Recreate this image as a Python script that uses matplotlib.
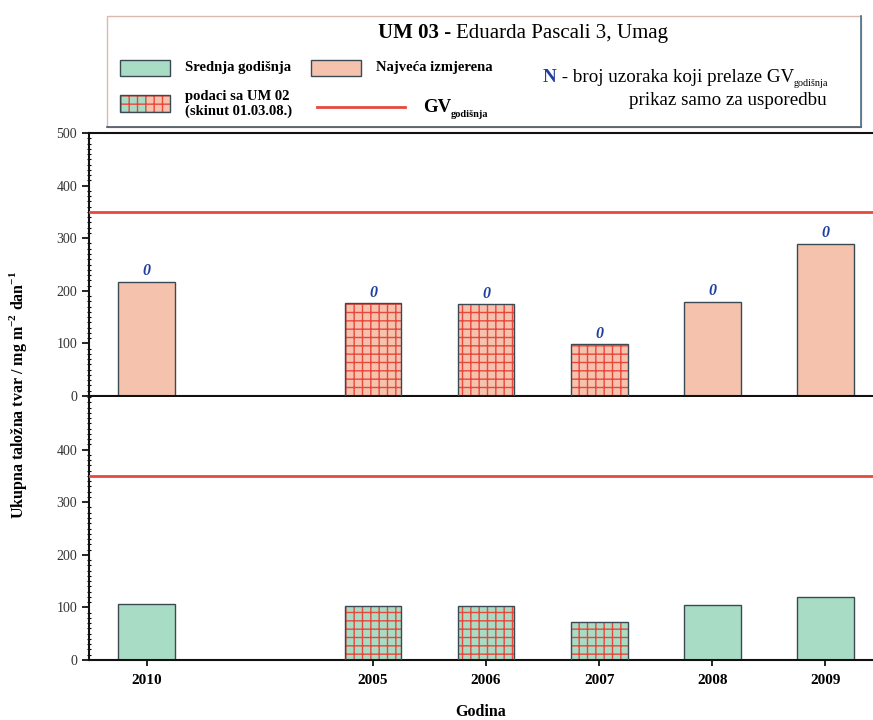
import numpy as np
import matplotlib
matplotlib.use("Agg")
import matplotlib.pyplot as plt
from matplotlib.patches import Rectangle
from matplotlib.lines import Line2D
from matplotlib.ticker import MultipleLocator

plt.rcParams['font.family'] = ['Liberation Serif', 'DejaVu Serif']
plt.rcParams['mathtext.fontset'] = 'custom'
plt.rcParams['mathtext.rm'] = 'Liberation Serif'
plt.rcParams['mathtext.bf'] = 'Liberation Serif:bold'
plt.rcParams['hatch.linewidth'] = 1.0

# --- data -------------------------------------------------------------
years = ['2010', '2005', '2006', '2007', '2008', '2009']
slots = [0, 2, 3, 4, 5, 6]
max_measured = [217, 176, 174, 98, 179, 289]     # Najveća izmjerena
annual_mean = [106, 103, 102, 72, 105, 119]      # Srednja godišnja
from_um02 = [False, True, True, True, False, False]
n_exceed = [0, 0, 0, 0, 0, 0]
gv_annual = 350

PINK = '#f5c2ad'
GREEN = '#a9dcc5'
EDGE = '#3b4a52'
RED = '#e8473c'
BLUE = '#1f3f9e'

W, H = 873, 720
fig = plt.figure(figsize=(W / 100, H / 100), dpi=100)

def fx(px):
    return px / W

def fy(py):
    return 1 - py / H

ax_top = fig.add_axes([fx(89), fy(396), fx(873 - 89), (396 - 133) / H])
ax_bot = fig.add_axes([fx(89), fy(660), fx(873 - 89), (660 - 397) / H])


def draw_panel(ax, values, fill, show_n):
    for x, v, um02, n in zip(slots, values, from_um02, n_exceed):
        if um02:
            ax.bar(x, v, width=0.5, color=fill, edgecolor=RED, hatch='++',
                   linewidth=0, zorder=2)
            ax.bar(x, v, width=0.5, facecolor='none', edgecolor=EDGE,
                   linewidth=1.0, zorder=3)
        else:
            ax.bar(x, v, width=0.5, color=fill, edgecolor=EDGE,
                   linewidth=1.0, zorder=2)
        if show_n:
            ax.annotate(str(n), (x, v), xytext=(0, 2), textcoords='offset points',
                        ha='center', va='bottom', color=BLUE, fontsize=11.5,
                        fontweight='bold', fontstyle='italic')
    ax.axhline(gv_annual, color=RED, linewidth=2, zorder=4)
    ax.set_xlim(-0.51, 6.42)
    ax.set_ylim(0, 500)
    ax.spines['right'].set_visible(False)
    for s in ('left', 'bottom', 'top'):
        ax.spines[s].set_linewidth(1.5)
        ax.spines[s].set_color('#111111')
    ax.yaxis.set_minor_locator(MultipleLocator(10))
    ax.tick_params(axis='y', which='major', direction='out', length=5, width=1.2,
                   labelsize=10, labelcolor='#333333')
    ax.tick_params(axis='y', which='minor', direction='inout', length=3, width=0.8)
    ax.set_xticks(slots)
    ax.tick_params(axis='x', which='major', direction='out', length=4, width=1.2)


draw_panel(ax_top, max_measured, PINK, True)
ax_top.set_yticks([0, 100, 200, 300, 400, 500])
ax_top.set_xticklabels([])

draw_panel(ax_bot, annual_mean, GREEN, False)
ax_bot.spines['top'].set_visible(False)
ax_bot.set_yticks([0, 100, 200, 300, 400])
ax_bot.set_xticklabels(years, fontsize=11, fontweight='bold')
ax_bot.tick_params(axis='x', pad=6)

ax_bot.set_xlabel('Godina', fontsize=11.5, fontweight='bold', labelpad=12)
fig.text(fx(18), fy(395),
         r'Ukupna taložna tvar / mg m$^{\mathbf{-2}}$ dan$^{\mathbf{-1}}$',
         rotation=90, ha='center', va='center', fontsize=11.5, fontweight='bold')

# --- legend panel --------------------------------------------------------
fig.patches.append(Rectangle((fx(107), fy(127)), fx(861 - 107), (127 - 16) / H,
                             transform=fig.transFigure, facecolor='white',
                             edgecolor='#d9b9b0', linewidth=1.0, zorder=5))
fig.lines.append(Line2D([fx(107), fx(861)], [fy(127), fy(127)],
                        transform=fig.transFigure, color='#4a5660', lw=1.2, zorder=6))
fig.lines.append(Line2D([fx(861), fx(861)], [fy(127), fy(16)],
                        transform=fig.transFigure, color='#4a6f88', lw=1.2, zorder=6))

renderer = fig.canvas.get_renderer()


def chain(x_px, y_px, parts):
    """Draw text pieces one after another on a shared baseline."""
    x = fx(x_px)
    for txt, kw in parts:
        dy = kw.pop('dy', 0)
        t = fig.text(x, fy(y_px + dy), txt, va='baseline', ha='left', zorder=7, **kw)
        bb = t.get_window_extent(renderer)
        x = bb.x1 / W
    return x


chain(378, 38, [('UM 03 - ', dict(fontsize=15, fontweight='bold')),
                ('Eduarda Pascali 3, Umag', dict(fontsize=15))])


def legend_patch(x0, y0, x1, y1, fill, hatch=False):
    r = Rectangle((fx(x0), fy(y1)), fx(x1 - x0), (y1 - y0) / H,
                  transform=fig.transFigure, facecolor=fill,
                  edgecolor=RED if hatch else EDGE,
                  hatch='++' if hatch else None,
                  linewidth=0 if hatch else 1.0, zorder=7)
    fig.patches.append(r)


legend_patch(120, 60, 170, 76, GREEN)
fig.text(fx(185), fy(68), 'Srednja godišnja', fontsize=10.5, fontweight='bold',
         va='center', ha='left', zorder=7)
legend_patch(311, 60, 361, 76, PINK)
fig.text(fx(376), fy(68), 'Najveća izmjerena', fontsize=10.5, fontweight='bold',
         va='center', ha='left', zorder=7)

legend_patch(120, 95, 147, 112, GREEN, hatch=True)
legend_patch(147, 95, 170, 112, PINK, hatch=True)
fig.patches.append(Rectangle((fx(120), fy(112)), fx(50), 17 / H,
                             transform=fig.transFigure, facecolor='none',
                             edgecolor=EDGE, linewidth=1.0, zorder=8))
fig.text(fx(185), fy(104), 'podaci sa UM 02\n(skinut 01.03.08.)', fontsize=10.5,
         fontweight='bold', va='center', ha='left', linespacing=1.1, zorder=7)

fig.lines.append(Line2D([fx(317), fx(405)], [fy(107), fy(107)],
                        transform=fig.transFigure, color=RED, lw=2, zorder=7))
chain(423, 112, [('GV', dict(fontsize=13.5, fontweight='bold')),
                 ('godišnja', dict(fontsize=7.5, fontweight='bold', dy=5))])

chain(543, 82, [('N', dict(fontsize=13.7, fontweight='bold', color=BLUE)),
                (' - broj uzoraka koji prelaze GV', dict(fontsize=13.7)),
                ('godišnja', dict(fontsize=7.3, dy=4))])
fig.text(fx(827), fy(105), 'prikaz samo za usporedbu', fontsize=13.7,
         ha='right', va='baseline', zorder=7)

fig.savefig('out.png', dpi=100)
